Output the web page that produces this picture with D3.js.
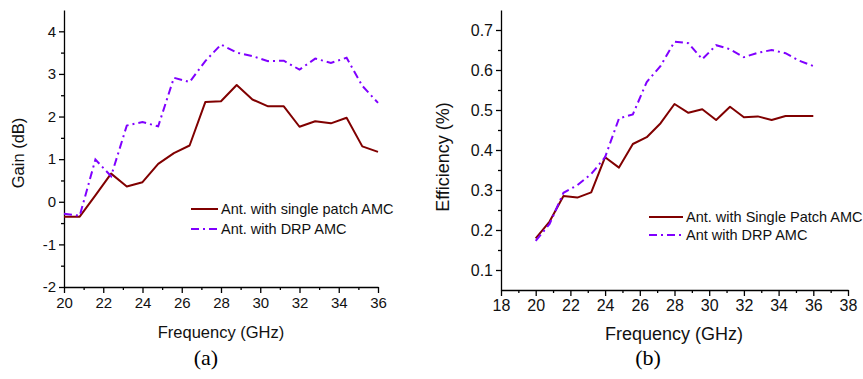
<!DOCTYPE html>
<html>
<head>
<meta charset="utf-8">
<script src="https://cdn.jsdelivr.net/npm/d3@7"></script>
<style>
  body { margin: 0; background: #fff; }
  svg { display: block; font-family: "Liberation Sans", Arial, sans-serif; }
  .axis path, .axis line { stroke: #000; stroke-width: 1.3; }
  .axis text { fill: #111; }
</style>
</head>
<body>
<svg id="chart" width="863" height="379"></svg>
<script>
const freq = [20, 20.8, 21.6, 22.4, 23.2, 24, 24.8, 25.6, 26.4, 27.2, 28, 28.8, 29.6, 30.4, 31.2, 32, 32.8, 33.6, 34.4, 35.2, 36];

const gainSingle = [-0.35, -0.35, 0.15, 0.66, 0.36, 0.46, 0.89, 1.14, 1.32, 2.34, 2.36, 2.74, 2.4, 2.24, 2.24, 1.76, 1.89, 1.84, 1.97, 1.3, 1.17];
const gainDrp = [-0.28, -0.33, 0.99, 0.6, 1.79, 1.87, 1.77, 2.91, 2.81, 3.3, 3.69, 3.5, 3.42, 3.3, 3.31, 3.1, 3.36, 3.26, 3.38, 2.72, 2.32];

const effSingle = [0.179, 0.221, 0.285, 0.281, 0.294, 0.382, 0.356, 0.415, 0.432, 0.467, 0.515, 0.493, 0.502, 0.475, 0.508, 0.482, 0.484, 0.475, 0.485, 0.485, 0.485];
const effDrp = [0.173, 0.215, 0.293, 0.312, 0.34, 0.382, 0.479, 0.489, 0.57, 0.61, 0.671, 0.667, 0.627, 0.662, 0.652, 0.632, 0.643, 0.65, 0.642, 0.623, 0.61];

const gainTicks = [-2, -1, 0, 1, 2, 3, 4];
const gainFreqTicks = [20, 22, 24, 26, 28, 30, 32, 34, 36];
const effTicks = [0.1, 0.2, 0.3, 0.4, 0.5, 0.6, 0.7];
const effFreqTicks = [18, 20, 22, 24, 26, 28, 30, 32, 34, 36, 38];

const legendA = ['Ant. with single patch AMC', 'Ant. with DRP AMC'];
const legendB = ['Ant. with Single Patch AMC', 'Ant with DRP AMC'];

const solidColor = '#800000';
const dashColor = '#8000ff';
const dashPattern = '8,4,2,4';

const svg = d3.select('#chart');

const drawPanel = (opt) => {
  const x = d3.scaleLinear().domain(opt.xDomain).range(opt.xRange);
  const y = d3.scaleLinear().domain(opt.yDomain).range(opt.yRange);
  const g = svg.append('g');

  // minor ticks
  const xMinor = d3.range(opt.xDomain[0] + 1, opt.xDomain[1], 2);
  const yMinor = opt.yMinor;
  g.append('g')
    .attr('class', 'axis')
    .attr('transform', `translate(0,${opt.yRange[0]})`)
    .call(d3.axisBottom(x).tickValues(xMinor).tickSize(3).tickFormat(''))
    .select('.domain').remove();
  g.append('g')
    .attr('class', 'axis')
    .attr('transform', `translate(${opt.xRange[0]},0)`)
    .call(d3.axisLeft(y).tickValues(yMinor).tickSize(3).tickFormat(''))
    .select('.domain').remove();

  const xAxis = g.append('g')
    .attr('class', 'axis')
    .attr('transform', `translate(0,${opt.yRange[0]})`)
    .call(d3.axisBottom(x).tickValues(opt.xTicks).tickSize(6).tickSizeOuter(0).tickPadding(4));
  xAxis.selectAll('text').attr('font-size', opt.tickFont);

  const yAxis = g.append('g')
    .attr('class', 'axis')
    .attr('transform', `translate(${opt.xRange[0]},0)`)
    .call(d3.axisLeft(y).tickValues(opt.yTicks).tickSize(5).tickSizeOuter(0).tickPadding(3)
      .tickFormat(opt.yFormat));
  yAxis.selectAll('text').attr('font-size', opt.tickFont);

  const line = d3.line()
    .x((d, i) => x(freq[i]))
    .y(d => y(d));

  g.append('path')
    .datum(opt.solid)
    .attr('d', line)
    .attr('fill', 'none')
    .attr('stroke', solidColor)
    .attr('stroke-width', 2)
    .attr('stroke-linejoin', 'round');

  g.append('path')
    .datum(opt.dashed)
    .attr('d', line)
    .attr('fill', 'none')
    .attr('stroke', dashColor)
    .attr('stroke-width', 2)
    .attr('stroke-dasharray', dashPattern);

  // axis titles
  g.append('text')
    .attr('x', opt.xTitle[0])
    .attr('y', opt.xTitle[1])
    .attr('text-anchor', 'middle')
    .attr('font-size', opt.titleFont)
    .attr('fill', '#111')
    .text('Frequency (GHz)');

  g.append('text')
    .attr('transform', `translate(${opt.yTitle[0]},${opt.yTitle[1]}) rotate(-90)`)
    .attr('text-anchor', 'middle')
    .attr('font-size', opt.titleFont)
    .attr('fill', '#111')
    .text(opt.yLabel);

  // legend
  const lg = opt.legend;
  opt.legendText.forEach((t, i) => {
    const ly = lg.y + i * lg.gap;
    g.append('line')
      .attr('x1', lg.x1).attr('x2', lg.x2)
      .attr('y1', ly).attr('y2', ly)
      .attr('stroke', i === 0 ? solidColor : dashColor)
      .attr('stroke-width', 2)
      .attr('stroke-dasharray', i === 0 ? null : dashPattern);
    g.append('text')
      .attr('x', lg.x2 + 3)
      .attr('y', ly + 5)
      .attr('font-size', lg.font)
      .attr('fill', '#111')
      .text(t);
  });

  // panel caption
  g.append('text')
    .attr('x', opt.caption[0])
    .attr('y', opt.caption[1])
    .attr('text-anchor', 'middle')
    .attr('font-family', '"Liberation Serif", "Times New Roman", serif')
    .attr('font-size', 22)
    .attr('fill', '#000')
    .text(opt.captionText);
};

drawPanel({
  xDomain: [20, 36], xRange: [64, 378],
  yDomain: [-2, 4.5], yRange: [287, 10],
  xTicks: gainFreqTicks, yTicks: gainTicks,
  yMinor: [-1.5, -0.5, 0.5, 1.5, 2.5, 3.5],
  yFormat: d => String(d),
  solid: gainSingle, dashed: gainDrp,
  tickFont: 15, titleFont: 16.5,
  xTitle: [221, 338], yTitle: [24, 153], yLabel: 'Gain (dB)',
  legend: { x1: 191, x2: 218, y: 209, gap: 20, font: 14.5 },
  legendText: legendA,
  caption: [206, 365], captionText: '(a)'
});

drawPanel({
  xDomain: [18, 38], xRange: [501, 848],
  yDomain: [0.05, 0.75], yRange: [290, 10],
  xTicks: effFreqTicks, yTicks: effTicks,
  yMinor: [0.15, 0.25, 0.35, 0.45, 0.55, 0.65],
  yFormat: d3.format('.1f'),
  solid: effSingle, dashed: effDrp,
  tickFont: 16, titleFont: 18,
  xTitle: [674, 340], yTitle: [449, 157], yLabel: 'Efficiency (%)',
  legend: { x1: 649, x2: 683, y: 217, gap: 18, font: 14.5 },
  legendText: legendB,
  caption: [648, 365], captionText: '(b)'
});
</script>
</body>
</html>
